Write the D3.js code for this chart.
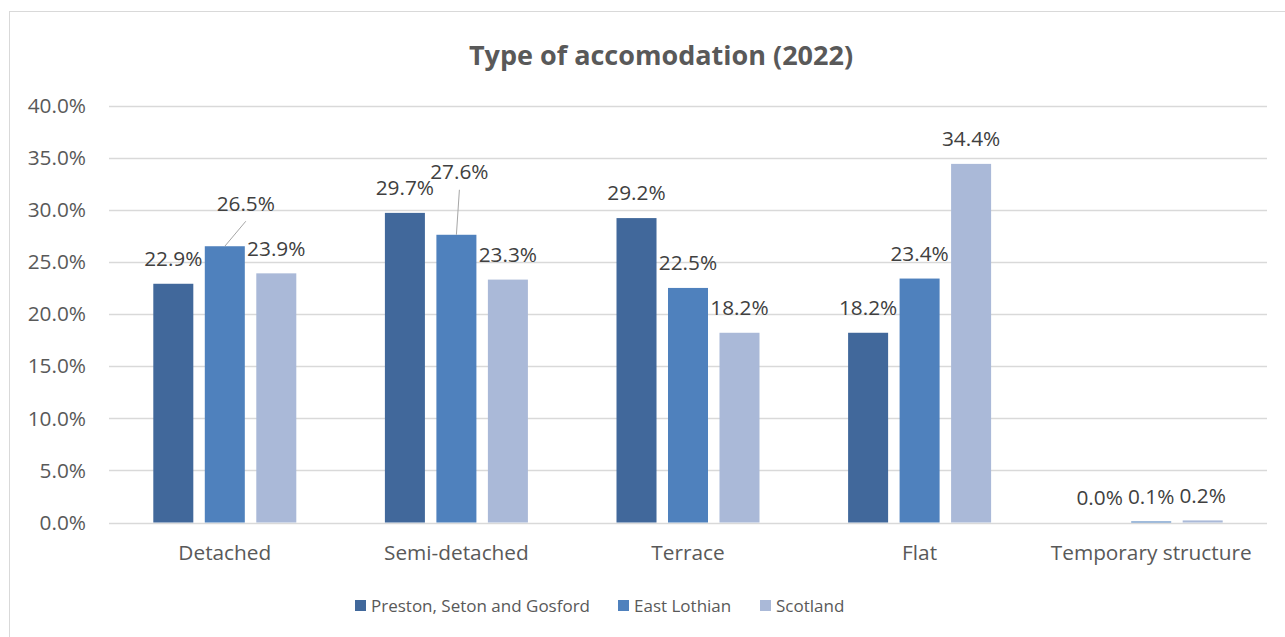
<!DOCTYPE html>
<html>
<head>
<meta charset="utf-8">
<script src="https://cdn.jsdelivr.net/npm/d3@7"></script>
<style>
  body { margin: 0; background: #fff; }
  text { font-family: "Open Sans", "Noto Sans", sans-serif; fill: #404040; }
</style>
</head>
<body>
<div id="chart"></div>
<script>
// data
var categories = ["Detached", "Semi-detached", "Terrace", "Flat", "Temporary structure"];
var seriesNames = ["Preston, Seton and Gosford", "East Lothian", "Scotland"];
var preston = [22.9, 29.7, 29.2, 18.2, 0.0];
var eastLothian = [26.5, 27.6, 22.5, 23.4, 0.1];
var scotland = [23.9, 23.3, 18.2, 34.4, 0.2];
var yTicks = [0, 5, 10, 15, 20, 25, 30, 35, 40];

var seriesValues = [preston, eastLothian, scotland];
var colors = ["#41689b", "#4f81bd", "#aab9d8"];

// labels Excel pushed aside (drawn with a leader line)
var moved = {
  "East Lothian|Detached": [21, -18],
  "East Lothian|Semi-detached": [3, -38]
};

var width = 1285, height = 637;
var svg = d3.select("#chart").append("svg")
    .attr("width", width)
    .attr("height", height);

// chart frame
svg.append("rect")
    .attr("x", 9.5).attr("y", 11.5)
    .attr("width", 1300).attr("height", 660)
    .attr("fill", "#fff")
    .attr("stroke", "#d9d9d9");

var x0 = d3.scaleBand()
    .domain(categories)
    .range([109, 1267]);

var x1 = d3.scaleBand()
    .domain(seriesNames)
    .range([44.3, x0.bandwidth() - 44.3])
    .paddingInner(0.223);

var y = d3.scaleLinear()
    .domain([0, 40])
    .range([522.5, 105.5]);

// gridlines
svg.append("g")
    .selectAll("line")
    .data(yTicks)
    .enter().append("line")
    .attr("x1", 109).attr("x2", 1267)
    .attr("y1", function(d) { return Math.round(y(d)) + 0.5; })
    .attr("y2", function(d) { return Math.round(y(d)) + 0.5; })
    .attr("stroke", "#d9d9d9")
    .attr("stroke-width", 1.3);

// y labels
svg.append("g")
    .selectAll("text")
    .data(yTicks)
    .enter().append("text")
    .attr("x", 86)
    .attr("y", function(d) { return y(d); })
    .attr("dy", "0.35em")
    .style("text-anchor", "end")
    .style("font-size", "20.8px")
    .style("fill", "#595959")
    .text(function(d) { return d.toFixed(1) + "%"; });

// x labels
svg.append("g")
    .selectAll("text")
    .data(categories)
    .enter().append("text")
    .attr("x", function(d) { return x0(d) + x0.bandwidth() / 2; })
    .attr("y", 553)
    .attr("dy", "0.35em")
    .style("text-anchor", "middle")
    .style("font-size", "20.8px")
    .style("fill", "#595959")
    .text(function(d) { return d; });

// bars
var rows = [];
seriesNames.forEach(function(s, si) {
  categories.forEach(function(c, ci) {
    rows.push({ series: s, cat: c, value: seriesValues[si][ci], color: colors[si] });
  });
});

svg.append("g")
    .selectAll("rect")
    .data(rows)
    .enter().append("rect")
    .attr("x", function(d) { return x0(d.cat) + x1(d.series); })
    .attr("y", function(d) { return y(d.value); })
    .attr("width", x1.bandwidth())
    .attr("height", function(d) { return y(0) - y(d.value); })
    .attr("fill", function(d) { return d.color; });

// data labels + leader lines
var lbl = svg.append("g");
rows.forEach(function(d) {
  var cx = x0(d.cat) + x1(d.series) + x1.bandwidth() / 2;
  var top = y(d.value);
  var shift = moved[d.series + "|" + d.cat] || [0, 0];
  var lx = cx + shift[0], ly = top - 25 + shift[1];
  if (moved[d.series + "|" + d.cat]) {
    lbl.append("line")
        .attr("x1", cx).attr("y1", top)
        .attr("x2", lx).attr("y2", ly + 18)
        .attr("stroke", "#a6a6a6")
        .attr("stroke-width", 1);
  }
  lbl.append("text")
      .attr("x", lx)
      .attr("y", ly)
      .attr("dy", "0.35em")
      .style("text-anchor", "middle")
      .style("font-size", "20.8px")
      .text(d.value.toFixed(1) + "%");
});

// title
svg.append("text")
    .attr("x", 661)
    .attr("y", 56)
    .attr("dy", "0.35em")
    .style("text-anchor", "middle")
    .style("font-size", "27px")
    .style("font-weight", "bold")
    .style("fill", "#595959")
    .text("Type of accomodation (2022)");

// legend
var legendX = [355, 618, 760];
var legend = svg.append("g");
seriesNames.forEach(function(s, i) {
  legend.append("rect")
      .attr("x", legendX[i]).attr("y", 600)
      .attr("width", 11).attr("height", 11)
      .attr("fill", colors[i]);
  legend.append("text")
      .attr("x", legendX[i] + 16)
      .attr("y", 606)
      .attr("dy", "0.35em")
      .style("font-size", "17px")
      .style("fill", "#595959")
      .text(s);
});
</script>
</body>
</html>
